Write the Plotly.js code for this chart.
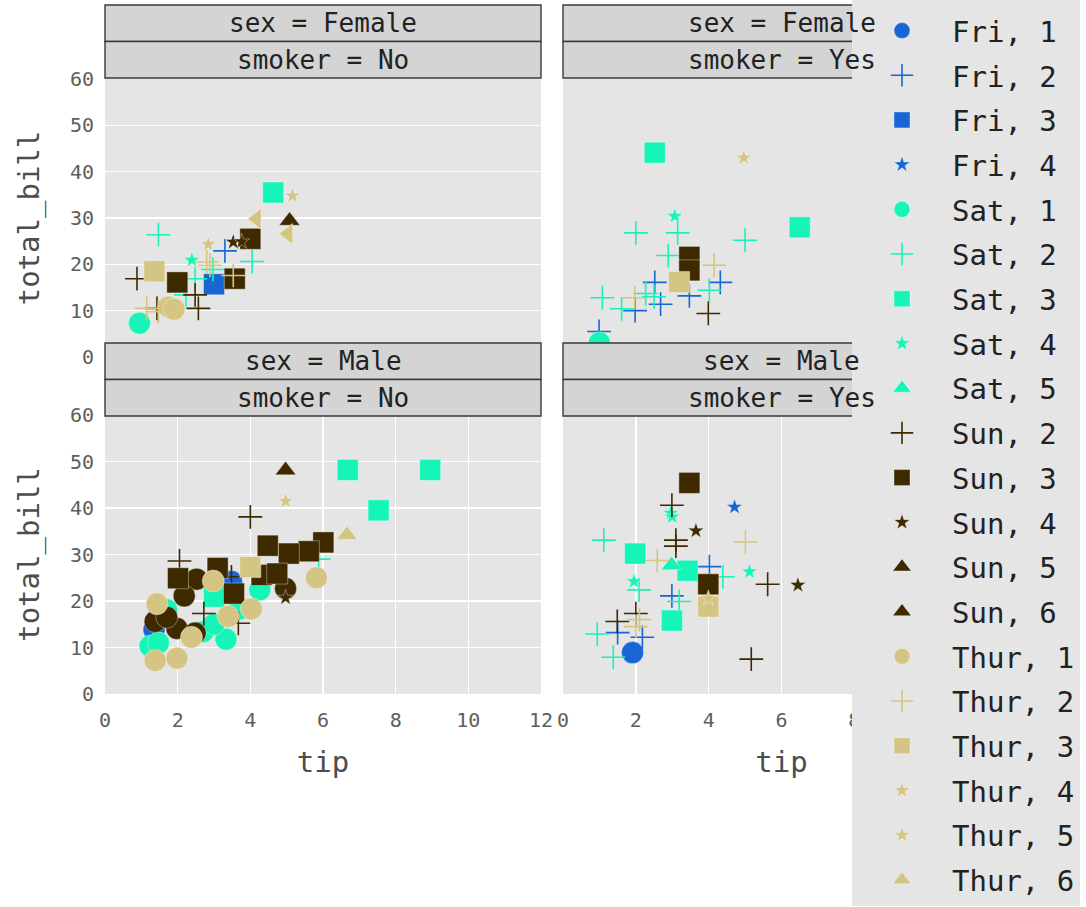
<!DOCTYPE html>
<html>
<head>
<meta charset="utf-8">
<script src="https://cdn.plot.ly/plotly-3.0.1.min.js"></script>
<style>html,body{margin:0;padding:0;background:#fff}#chart{width:1086px;height:907px}</style>
</head>
<body>
<div id="chart"></div>
<script>
// ---------- DATA ----------
// Legend categories (day, size)
const legendCategories = ["Fri, 1","Fri, 2","Fri, 3","Fri, 4","Sat, 1","Sat, 2","Sat, 3","Sat, 4","Sat, 5",
  "Sun, 2","Sun, 3","Sun, 4","Sun, 5","Sun, 6","Thur, 1","Thur, 2","Thur, 3","Thur, 4","Thur, 5","Thur, 6"];

// Facet: sex = Female, smoker = No
const fnTip  = [0.95, 1.47,4.05,2.23,2.48,2.97, 4.63, 2.39, 3.3, 3.0, 0.88,2.57,1.43,2.48, 4.0,1.99,3.57, 3.53,3.76, 5.08, 1.75,1.9, 1.47,1.15,2.89,3.53,2.8, 1.36, 2.84,5.16, 4.17,5.04];
const fnBill = [7.3, 26.4,20.6,13.4,16.9,18.9, 35.5, 20.9, 22.9, 15.7, 16.9,10.5,10.5,13.4, 25.5,16.1,16.9, 24.8,24.9, 29.4, 10.8,10.3, 9.8,10.5,19.8,17.6,20.5, 18.5, 24.3,34.8, 29.8,26.6];
const fnCat  = ["Sat, 1","Sat, 2","Sat, 2","Sat, 2","Sat, 2","Sat, 2","Sat, 3","Sat, 4","Fri, 2","Fri, 3",
  "Sun, 2","Sun, 2","Sun, 2","Sun, 2","Sun, 3","Sun, 3","Sun, 3","Sun, 4","Sun, 4","Sun, 5",
  "Thur, 1","Thur, 1","Thur, 2","Thur, 2","Thur, 2","Thur, 2","Thur, 2","Thur, 3","Thur, 4","Thur, 4","Thur, 6","Thur, 6"];

// Facet: sex = Female, smoker = Yes
const fyTip  = [2.52,4.32,3.47,2.68,1.98,0.99, 1.0, 2.0,3.15,5.0,2.89,1.08,1.61,2.27,4.02,2.5, 2.52,6.5, 3.07, 3.99, 3.47,3.47, 4.15,1.97, 3.19, 4.96];
const fyBill = [16.1,16.1,13.2,11.4,10.0,5.5, 3.07, 26.8,26.8,25.2,21.9,12.8,10.4,13.7,14.4,13.0, 44.1,28.0, 30.4, 9.4, 21.6,18.7, 19.8,12.8, 16.2, 43.0];
const fyCat  = ["Fri, 2","Fri, 2","Fri, 2","Fri, 2","Fri, 2","Fri, 2","Sat, 1",
  "Sat, 2","Sat, 2","Sat, 2","Sat, 2","Sat, 2","Sat, 2","Sat, 2","Sat, 2","Sat, 2","Sat, 3","Sat, 3","Sat, 4",
  "Sun, 2","Sun, 3","Sun, 3","Thur, 2","Thur, 2","Thur, 3","Thur, 4"];

// Facet: sex = Male, smoker = No
const mnTip  = [3.48,1.35, 1.7,3.7,4.26,2.7,3.33,1.24,1.47,3.0, 5.88, 6.68,8.95,7.53,3.0,
  2.52,2.18,1.98,1.38,4.97,2.48,1.7, 4.0,2.05,3.48,2.72,3.67,
  6.01,5.61,5.06,4.48,4.31,4.74,3.1,2.01,3.55, 4.97, 4.97,
  1.38,1.98,1.43,2.98,4.03,3.39,2.38,5.82, 4.0, 4.97, 6.66];
const mnBill = [24.2,13.8, 18.1,18.3,22.4,13.4,11.8,10.3,11.0,15.0, 29.0, 48.2,48.2,39.5,20.9,
  24.7,21.1,14.1,15.6,22.7,13.1,16.5, 38.1,28.6,25.2,17.3,15.2,
  32.6,30.7,30.2,31.9,25.6,25.9,27.1,24.9,21.6, 20.7, 48.1,
  7.2,7.7,19.4,24.3,18.3,16.7,12.2,25.0, 27.3, 41.5, 34.2];
const mnCat  = ["Fri, 1","Fri, 1","Sat, 1","Sat, 1","Sat, 1","Sat, 1","Sat, 1","Sat, 1","Sat, 1","Sat, 1","Sat, 2",
  "Sat, 3","Sat, 3","Sat, 3","Sat, 3",
  "Sun, 1","Sun, 1","Sun, 1","Sun, 1","Sun, 1","Sun, 1","Sun, 1",
  "Sun, 2","Sun, 2","Sun, 2","Sun, 2","Sun, 2",
  "Sun, 3","Sun, 3","Sun, 3","Sun, 3","Sun, 3","Sun, 3","Sun, 3","Sun, 3","Sun, 3","Sun, 4","Sun, 6",
  "Thur, 1","Thur, 1","Thur, 1","Thur, 1","Thur, 1","Thur, 1","Thur, 1","Thur, 1","Thur, 3","Thur, 5","Thur, 6"];

// Facet: sex = Male, smoker = Yes
const myTip  = [1.91, 4.02,2.99,1.5,2.18, 4.71, 1.12,4.39,3.19,0.94,1.38,2.09, 1.98,3.42,2.99, 2.96,3.0,5.12,1.95, 2.98,
  2.99,3.1,3.1,5.62,2.0,1.49,5.17, 3.47,3.99, 3.65,6.45, 5.01,2.59,2.0,2.1, 3.99, 3.99];
const myBill = [8.9, 27.4,21.1,13.2,12.2, 40.2, 33.1,25.2,19.9,12.9,7.9,22.4, 30.2,26.5,15.8, 38.9,38.1,26.3,24.2, 27.7,
  40.6,33.1,31.8,23.6,17.3,15.6,7.5, 45.4,23.6, 35.1,23.4, 32.7,28.7,14.5,16.0, 18.8, 20.6];
const myCat  = ["Fri, 1","Fri, 2","Fri, 2","Fri, 2","Fri, 2","Fri, 4",
  "Sat, 2","Sat, 2","Sat, 2","Sat, 2","Sat, 2","Sat, 2","Sat, 3","Sat, 3","Sat, 3",
  "Sat, 4","Sat, 4","Sat, 4","Sat, 4","Sat, 5",
  "Sun, 2","Sun, 2","Sun, 2","Sun, 2","Sun, 2","Sun, 2","Sun, 2","Sun, 3","Sun, 3","Sun, 4","Sun, 4",
  "Thur, 2","Thur, 2","Thur, 2","Thur, 2","Thur, 3","Thur, 4"];

const stripTop = ["sex = Female","sex = Female","sex = Male","sex = Male"];
const stripBottom = ["smoker = No","smoker = Yes","smoker = No","smoker = Yes"];
const yTicks = [0,10,20,30,40,50,60];
const xTicksLeft = [0,2,4,6,8,10,12];
const xTicksRight = [0,2,4,6,8];

// ---------- STYLE ----------
const FONT = "DejaVu Sans Mono";
const dayColor = {Fri:"#1866d6", Sat:"#16f4b8", Sun:"#3f2a00", Thur:"#d4c584"};
const catSymbol = {"1":"circle","2":"cross-thin","3":"square","4":"star","5":"triangle-up","6":"triangle-up"};
const catSymbolExtra = {"Thur, 5":"star"};
const facetSymbolOverride = {"fn|Thur, 6":"triangle-left"};
const symSize = {"circle":22,"cross-thin":17,"square":21,"star":12,"triangle-up":18,"triangle-left":18};

const facets = [
  {id:"fn", tip:fnTip, bill:fnBill, cat:fnCat, xa:"x", ya:"y"},
  {id:"fy", tip:fyTip, bill:fyBill, cat:fyCat, xa:"x2", ya:"y2"},
  {id:"mn", tip:mnTip, bill:mnBill, cat:mnCat, xa:"x3", ya:"y3"},
  {id:"my", tip:myTip, bill:myBill, cat:myCat, xa:"x4", ya:"y4"}
];

const allCats = legendCategories.slice();
facets.forEach(f => f.cat.forEach(c => { if (!allCats.includes(c)) allCats.push(c); }));
allCats.sort((a,b) => {
  const [da,sa] = a.split(", "), [db,sb] = b.split(", ");
  return da === db ? (+sa - +sb) : (da < db ? -1 : 1);
});

const traces = [];
const shown = {};
allCats.forEach(cat => {
  const day = cat.split(", ")[0];
  const sizeKey = cat.split(", ")[1];
  const baseSym = catSymbolExtra[cat] || catSymbol[sizeKey];
  facets.forEach(f => {
    const idx = f.cat.map((c,i) => c === cat ? i : -1).filter(i => i >= 0);
    if (!idx.length) return;
    const sym = facetSymbolOverride[f.id + "|" + cat] || baseSym;
    const inLegend = legendCategories.includes(cat) && !shown[cat] && sym === baseSym;
    if (inLegend) shown[cat] = true;
    const isCross = sym === "cross-thin";
    traces.push({
      type: "scatter", mode: "markers",
      x: idx.map(i => f.tip[i]), y: idx.map(i => f.bill[i]),
      xaxis: f.xa, yaxis: f.ya,
      name: cat, legendgroup: cat, showlegend: inLegend,
      marker: {
        symbol: sym, size: symSize[sym], color: dayColor[day], opacity: 1,
        line: isCross ? {color: dayColor[day], width: 1.6} : {color: "rgba(255,255,255,0.45)", width: 0.8}
      },
      hoverinfo: "x+y+name"
    });
  });
});

// ---------- LAYOUT ----------
const W = 1086, H = 907;
const px = v => v / W, py = v => 1 - v / H;
const leftDom = [px(105), px(541)], rightDom = [px(563), px(1000)];
const topDom = [py(357), py(79)], botDom = [py(694), py(415)];

const tickFont = {family: FONT, size: 20, color: "#5e5e5e"};
const titleFont = {family: FONT, size: 29, color: "#4d4d4d"};
function xa(dom, anchor, labels, grid, ticks) {
  return {domain: dom, anchor: anchor, range: [0, 12], tickvals: ticks, showticklabels: labels,
    showgrid: grid, gridcolor: "#ffffff", gridwidth: 1.6, zeroline: false, showline: false,
    ticks: labels ? "outside" : "", ticklen: 8, tickcolor: "rgba(0,0,0,0)", tickfont: tickFont,
    title: labels ? {text: "tip", font: titleFont, standoff: 20} : {text: ""}, fixedrange: true};
}
function ya(dom, anchor, labels, grid) {
  return {domain: dom, anchor: anchor, range: [0, 60], tickvals: yTicks, showticklabels: labels,
    showgrid: grid, gridcolor: "#ffffff", gridwidth: 1.6, zeroline: false, showline: false,
    ticks: labels ? "outside" : "", ticklen: 6, tickcolor: "rgba(0,0,0,0)", tickfont: tickFont,
    title: labels ? {text: "total_bill", font: titleFont, standoff: 21} : {text: ""}, fixedrange: true};
}

const shapes = [], annotations = [];
const panels = [
  {xd: leftDom, top: 5}, {xd: rightDom, top: 5}, {xd: leftDom, top: 343}, {xd: rightDom, top: 343}
];
panels.forEach((p, i) => {
  const h = 36.5;
  [[p.top, p.top + h, stripTop[i]], [p.top + h, p.top + 2*h, stripBottom[i]]].forEach(([a, b, t]) => {
    shapes.push({type: "rect", xref: "paper", yref: "paper", x0: p.xd[0], x1: p.xd[1], y0: py(b), y1: py(a),
      fillcolor: "#d4d4d4", line: {color: "#3a3a3a", width: 1.4}, layer: "above"});
    annotations.push({xref: "paper", yref: "paper", x: (p.xd[0] + p.xd[1]) / 2, y: py((a + b) / 2),
      xanchor: "center", yanchor: "middle", showarrow: false, text: t,
      font: {family: FONT, size: 26, color: "#222222"}});
  });
});

const layout = {
  width: W, height: H,
  margin: {l: 0, r: 0, t: 0, b: 0},
  paper_bgcolor: "#ffffff", plot_bgcolor: "#e5e5e5",
  font: {family: FONT},
  xaxis: xa(leftDom, "y", false, false, xTicksLeft),
  yaxis: ya(topDom, "x", true, true),
  xaxis2: xa(rightDom, "y2", false, false, xTicksRight),
  yaxis2: ya(topDom, "x2", false, false),
  xaxis3: xa(leftDom, "y3", true, true, xTicksLeft),
  yaxis3: ya(botDom, "x3", true, true),
  xaxis4: xa(rightDom, "y4", true, true, xTicksRight),
  yaxis4: ya(botDom, "x4", false, false),
  shapes: shapes, annotations: annotations,
  showlegend: true,
  legend: {x: px(852), xanchor: "left", y: 1, yanchor: "top", bgcolor: "#e5e5e5",
    bordercolor: "#ffffff", borderwidth: 0, font: {family: FONT, size: 29, color: "#222222"},
    title: {text: " ", font: {family: FONT, size: 4}},
    traceorder: "grouped", tracegroupgap: 4, itemwidth: 90, itemsizing: "trace", maxheight: 1}
};

Plotly.newPlot("chart", traces, layout, {displayModeBar: false, staticPlot: true});
</script>
</body>
</html>
